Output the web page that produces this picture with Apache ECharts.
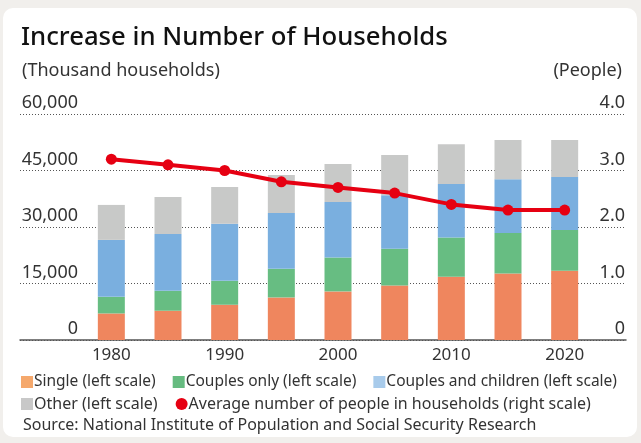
<!DOCTYPE html>
<html>
<head>
<meta charset="utf-8">
<script src="https://cdn.jsdelivr.net/npm/echarts@6/dist/echarts.min.js"></script>
<style>
  html, body { margin: 0; padding: 0; background: #f1efec; }
  #card { position: absolute; left: 3px; top: 8px; width: 634px; height: 429px; background: #fff; border-radius: 10px; }
  #main { position: absolute; left: 0; top: 0; width: 641px; height: 443px; }
</style>
</head>
<body>
<div id="card"></div>
<div id="main"></div>
<script>
// thousand households, by type
const years = ['1980', '1985', '1990', '1995', '2000', '2005', '2010', '2015', '2020'];
const single = [7050, 7770, 9360, 11300, 12900, 14500, 16800, 17650, 18400];
const couplesOnly = [4420, 5300, 6360, 7600, 9000, 9700, 10400, 10750, 10800];
const couplesChildren = [15110, 15100, 15110, 14840, 14750, 14200, 14200, 14300, 14100];
const other = [9280, 9810, 9800, 10060, 10050, 10700, 10600, 10400, 9800];
// people per household
const avgPeople = [3.20, 3.10, 3.00, 2.80, 2.70, 2.60, 2.40, 2.30, 2.30];

const font = '"Noto Sans", sans-serif';
const txt = '#333';

const barSeries = (name, data, color) => ({
    name: name,
    type: 'bar',
    stack: 'hh',
    barWidth: 27,
    xAxisIndex: 1,
    yAxisIndex: 2,
    itemStyle: {color: color},
    data: data
});

const chart = echarts.init(document.getElementById('main'));
chart.setOption({
    textStyle: {fontFamily: font},
    title: [
        {
            text: 'Increase in Number of Households',
            left: 16, top: 20,
            textStyle: {fontSize: 25.7, fontWeight: 500, color: '#111', fontFamily: font}
        },
        {
            text: '(Thousand households)',
            left: 17, top: 57,
            textStyle: {fontSize: 18, fontWeight: 'normal', color: txt, fontFamily: font}
        },
        {
            text: '(People)',
            right: 14, top: 57,
            textStyle: {fontSize: 18, fontWeight: 'normal', color: txt, fontFamily: font}
        },
        {
            text: 'Source: National Institute of Population and Social Security Research',
            left: 18, top: 412,
            textStyle: {fontSize: 16, fontWeight: 'normal', color: txt, fontFamily: font}
        }
    ],
    legend: [
        {
            data: [
                {name: 'Single (left scale)', itemStyle: {color: '#f5a86c'}},
                {name: 'Couples only (left scale)', itemStyle: {color: '#66bb80'}},
                {name: 'Couples and children (left scale)', itemStyle: {color: '#a8cbeb'}}
            ],
            left: 21, top: 374,
            icon: 'rect',
            itemWidth: 12, itemHeight: 12, itemGap: 17,
            padding: 0,
            textStyle: {fontSize: 15.5, color: txt, padding: [0, 0, 0, -4]}
        },
        {
            data: [
                {name: 'Other (left scale)', icon: 'rect', itemStyle: {color: '#c8c8c8'}},
                {name: 'Average number of people in households (right scale)', icon: 'circle', itemStyle: {color: '#e60012'}}
            ],
            left: 21, top: 396,
            itemWidth: 12, itemHeight: 12, itemGap: 18,
            padding: 0,
            textStyle: {fontSize: 16, color: txt, padding: [0, 0, 0, -4]}
        }
    ],
    grid: [
        {left: 20, right: 15, top: 114, bottom: 103},
        {left: 83, right: 48, top: 114, bottom: 103}
    ],
    xAxis: [
        {
            gridIndex: 0,
            type: 'value',
            min: 0, max: 1,
            splitLine: {show: false},
            axisTick: {show: false},
            axisLabel: {show: false},
            axisLine: {show: true, lineStyle: {color: '#555', width: 1.5}}
        },
        {
            gridIndex: 1,
            type: 'category',
            data: years,
            axisLine: {show: false},
            axisTick: {show: false},
            axisLabel: {interval: 1, fontSize: 17, color: txt, margin: 7}
        }
    ],
    yAxis: [
        {
            gridIndex: 0,
            type: 'value',
            min: 0, max: 60000, interval: 15000,
            axisLine: {show: false},
            axisTick: {show: false},
            splitLine: {show: true, lineStyle: {color: '#555', type: [1, 2], width: 1}},
            axisLabel: {
                inside: true,
                align: 'right',
                verticalAlign: 'bottom',
                margin: 58,
                fontSize: 18,
                color: txt,
                padding: [0, 0, 2, 0],
                formatter: v => v.toLocaleString('en-US')
            }
        },
        {
            gridIndex: 0,
            type: 'value',
            position: 'right',
            min: 0, max: 4, interval: 1,
            axisLine: {show: false},
            axisTick: {show: false},
            splitLine: {show: false},
            axisLabel: {
                inside: true,
                align: 'right',
                verticalAlign: 'bottom',
                margin: 1,
                fontSize: 18,
                color: txt,
                padding: [0, 0, 2, 0],
                formatter: v => v === 0 ? '0' : v.toFixed(1)
            }
        },
        {
            gridIndex: 1,
            type: 'value',
            min: 0, max: 60000,
            show: false
        },
        {
            gridIndex: 1,
            type: 'value',
            min: 0, max: 4,
            show: false
        }
    ],
    series: [
        barSeries('Single (left scale)', single, '#ef865e'),
        barSeries('Couples only (left scale)', couplesOnly, '#67bd82'),
        barSeries('Couples and children (left scale)', couplesChildren, '#7aafdf'),
        barSeries('Other (left scale)', other, '#c8c9c8'),
        {
            name: 'Average number of people in households (right scale)',
            type: 'line',
            xAxisIndex: 1,
            yAxisIndex: 3,
            symbol: 'circle',
            symbolSize: 11,
            z: 5,
            lineStyle: {color: '#e60012', width: 4},
            itemStyle: {color: '#e60012'},
            data: avgPeople
        }
    ]
});
</script>
</body>
</html>
